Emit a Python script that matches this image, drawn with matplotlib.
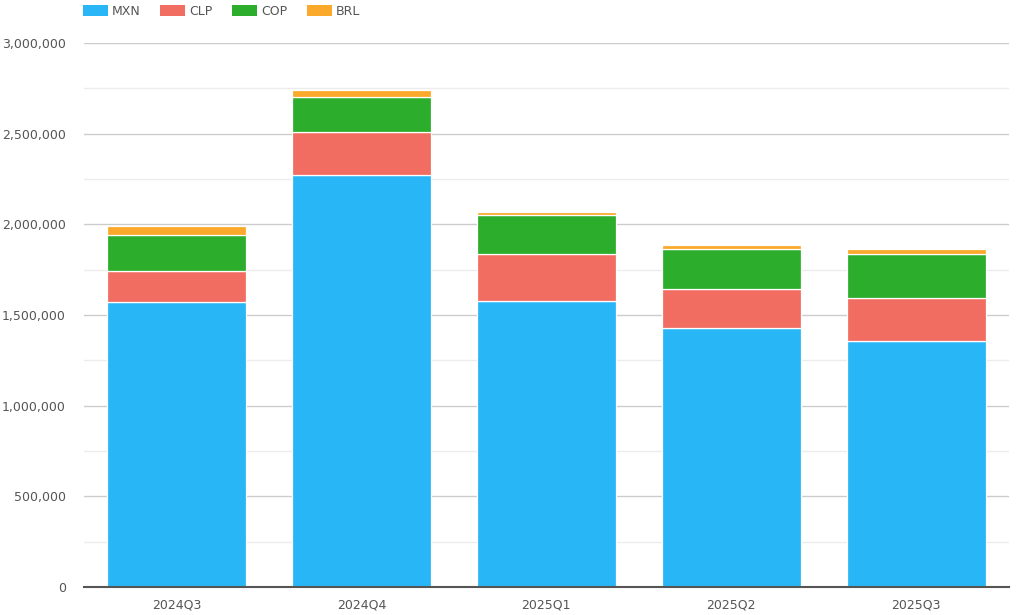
import numpy as np
import matplotlib.pyplot as plt
from matplotlib.patches import Patch
from matplotlib.ticker import FuncFormatter, MultipleLocator

quarters = ["2024Q3", "2024Q4", "2025Q1", "2025Q2", "2025Q3"]
mxn = [1572000, 2272000, 1577000, 1428000, 1357000]
clp = [169000, 239000, 259000, 215000, 235000]
cop = [199000, 193000, 214000, 223000, 244000]
brl = [51000, 37000, 16000, 20000, 28000]

series = [("MXN", mxn, "#29B6F6"),
          ("CLP", clp, "#F16D62"),
          ("COP", cop, "#2CAD2C"),
          ("BRL", brl, "#FBA92A")]

fig = plt.figure(figsize=(10.24, 6.15), dpi=100)
ax = fig.add_axes([0.082, 0.0455, 0.903, 0.8845])

x = np.arange(len(quarters))
bottom = np.zeros(len(quarters))
for name, vals, color in series:
    ax.bar(x, vals, width=0.75, bottom=bottom, color=color,
           edgecolor="white", linewidth=0.9, zorder=3)
    bottom += np.array(vals)

ax.set_xlim(-0.5, len(quarters) - 0.5)
ax.set_ylim(0, 3000000)
ax.yaxis.set_major_locator(MultipleLocator(500000))
ax.yaxis.set_minor_locator(MultipleLocator(250000))
ax.yaxis.set_major_formatter(FuncFormatter(lambda v, p: f"{int(v):,}"))
ax.grid(axis="y", which="major", color="#cccccc", linewidth=1, zorder=0)
ax.grid(axis="y", which="minor", color="#ececec", linewidth=1, zorder=0)

ax.set_xticks(x)
ax.set_xticklabels(quarters)
ax.tick_params(axis="both", which="both", length=0, colors="#555555", labelsize=9)
ax.tick_params(axis="x", pad=8)
ax.tick_params(axis="y", pad=13)

for side in ["top", "right", "left"]:
    ax.spines[side].set_visible(False)
ax.spines["bottom"].set_color("#555555")
ax.spines["bottom"].set_linewidth(1.5)
ax.spines["bottom"].set_zorder(4)

# legend across the top, left-aligned with the plot
handles = [Patch(facecolor=c, edgecolor="none", label=n) for n, _, c in series]
fig.legend(handles=handles, loc="upper left", bbox_to_anchor=(0.070, 1.010),
           ncol=4, frameon=False, fontsize=9, handlelength=2.0, handleheight=0.95,
           handletextpad=0.3, columnspacing=1.6, labelcolor="#555555")

fig.savefig("out.png", dpi=100)
